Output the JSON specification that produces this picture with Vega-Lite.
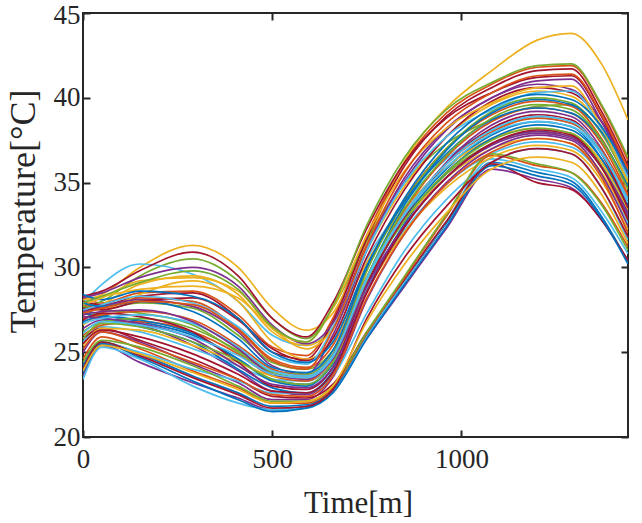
{
"$schema": "https://vega.github.io/schema/vega-lite/v6.json",
"width": 545, "height": 424,
"autosize": {"type": "none"},
"padding": {"left": 83, "top": 13, "right": 14, "bottom": 86},
"background": "white",
"config": {
 "view": {"stroke": "#262626", "strokeWidth": 2},
 "font": "Liberation Serif",
 "axis": {"grid": false, "domain": false, "tickColor": "#262626", "tickWidth": 2, "tickSize": -7, "labelColor": "#262626", "titleColor": "#262626", "labelFont": "Liberation Serif", "titleFont": "Liberation Serif", "labelFontSize": 27, "titleFontWeight": "normal", "labelFlush": false}
},
"data": {"values": [
{"s":0,"t":0,"v":27.5},{"s":0,"t":50,"v":27.2},{"s":0,"t":150,"v":26.8},{"s":0,"t":290,"v":26.0},{"s":0,"t":410,"v":24.6},{"s":0,"t":500,"v":23.4},{"s":0,"t":590,"v":23.1},{"s":0,"t":660,"v":24.3},{"s":0,"t":750,"v":29.0},{"s":0,"t":850,"v":32.9},{"s":0,"t":960,"v":35.8},{"s":0,"t":1080,"v":37.8},{"s":0,"t":1200,"v":38.6},{"s":0,"t":1290,"v":38.3},{"s":0,"t":1370,"v":36.4},{"s":0,"t":1440,"v":33.4},
{"s":1,"t":0,"v":28.2},{"s":1,"t":50,"v":27.9},{"s":1,"t":150,"v":28.5},{"s":1,"t":290,"v":28.6},{"s":1,"t":410,"v":27.2},{"s":1,"t":500,"v":25.3},{"s":1,"t":590,"v":24.8},{"s":1,"t":660,"v":27.0},{"s":1,"t":750,"v":31.9},{"s":1,"t":850,"v":36.2},{"s":1,"t":960,"v":39.1},{"s":1,"t":1080,"v":40.8},{"s":1,"t":1200,"v":41.8},{"s":1,"t":1290,"v":41.9},{"s":1,"t":1370,"v":39.5},{"s":1,"t":1440,"v":36.3},
{"s":2,"t":0,"v":28.0},{"s":2,"t":50,"v":28.4},{"s":2,"t":150,"v":30.0},{"s":2,"t":290,"v":31.3},{"s":2,"t":410,"v":30.0},{"s":2,"t":500,"v":27.6},{"s":2,"t":590,"v":26.3},{"s":2,"t":660,"v":27.3},{"s":2,"t":750,"v":31.5},{"s":2,"t":850,"v":36.3},{"s":2,"t":960,"v":39.4},{"s":2,"t":1080,"v":41.6},{"s":2,"t":1200,"v":43.4},{"s":2,"t":1290,"v":43.8},{"s":2,"t":1370,"v":42.0},{"s":2,"t":1440,"v":38.7},
{"s":3,"t":0,"v":23.6},{"s":3,"t":50,"v":25.4},{"s":3,"t":150,"v":24.4},{"s":3,"t":290,"v":23.2},{"s":3,"t":410,"v":22.3},{"s":3,"t":500,"v":21.6},{"s":3,"t":590,"v":21.8},{"s":3,"t":660,"v":22.7},{"s":3,"t":750,"v":25.8},{"s":3,"t":850,"v":28.9},{"s":3,"t":960,"v":32.3},{"s":3,"t":1080,"v":35.8},{"s":3,"t":1200,"v":35.2},{"s":3,"t":1290,"v":34.7},{"s":3,"t":1370,"v":32.8},{"s":3,"t":1440,"v":30.4},
{"s":4,"t":0,"v":27.6},{"s":4,"t":50,"v":28.0},{"s":4,"t":150,"v":29.5},{"s":4,"t":290,"v":30.5},{"s":4,"t":410,"v":29.2},{"s":4,"t":500,"v":27.0},{"s":4,"t":590,"v":25.8},{"s":4,"t":660,"v":27.6},{"s":4,"t":750,"v":31.6},{"s":4,"t":850,"v":35.0},{"s":4,"t":960,"v":37.3},{"s":4,"t":1080,"v":38.7},{"s":4,"t":1200,"v":39.5},{"s":4,"t":1290,"v":39.6},{"s":4,"t":1370,"v":37.5},{"s":4,"t":1440,"v":34.8},
{"s":5,"t":0,"v":27.9},{"s":5,"t":50,"v":29.0},{"s":5,"t":150,"v":30.2},{"s":5,"t":290,"v":29.6},{"s":5,"t":410,"v":28.0},{"s":5,"t":500,"v":26.0},{"s":5,"t":590,"v":25.4},{"s":5,"t":660,"v":26.5},{"s":5,"t":750,"v":30.5},{"s":5,"t":850,"v":33.8},{"s":5,"t":960,"v":36.4},{"s":5,"t":1080,"v":38.1},{"s":5,"t":1200,"v":38.8},{"s":5,"t":1290,"v":38.5},{"s":5,"t":1370,"v":36.7},{"s":5,"t":1440,"v":33.8},
{"s":6,"t":0,"v":28.3},{"s":6,"t":50,"v":28.6},{"s":6,"t":150,"v":29.8},{"s":6,"t":290,"v":30.9},{"s":6,"t":410,"v":29.5},{"s":6,"t":500,"v":27.0},{"s":6,"t":590,"v":25.9},{"s":6,"t":660,"v":27.9},{"s":6,"t":750,"v":32.3},{"s":6,"t":850,"v":36.2},{"s":6,"t":960,"v":38.8},{"s":6,"t":1080,"v":40.3},{"s":6,"t":1200,"v":41.2},{"s":6,"t":1290,"v":41.3},{"s":6,"t":1370,"v":38.9},{"s":6,"t":1440,"v":35.6},
{"s":7,"t":0,"v":24.2},{"s":7,"t":50,"v":25.6},{"s":7,"t":150,"v":24.9},{"s":7,"t":290,"v":23.6},{"s":7,"t":410,"v":22.6},{"s":7,"t":500,"v":21.8},{"s":7,"t":590,"v":21.9},{"s":7,"t":660,"v":22.8},{"s":7,"t":750,"v":26.0},{"s":7,"t":850,"v":29.2},{"s":7,"t":960,"v":32.6},{"s":7,"t":1080,"v":36.2},{"s":7,"t":1200,"v":35.6},{"s":7,"t":1290,"v":35.1},{"s":7,"t":1370,"v":33.0},{"s":7,"t":1440,"v":30.3},
{"s":8,"t":0,"v":27.8},{"s":8,"t":50,"v":27.6},{"s":8,"t":150,"v":28.2},{"s":8,"t":290,"v":28.0},{"s":8,"t":410,"v":26.4},{"s":8,"t":500,"v":24.6},{"s":8,"t":590,"v":24.1},{"s":8,"t":660,"v":25.4},{"s":8,"t":750,"v":30.1},{"s":8,"t":850,"v":34.0},{"s":8,"t":960,"v":37.0},{"s":8,"t":1080,"v":39.0},{"s":8,"t":1200,"v":39.8},{"s":8,"t":1290,"v":39.5},{"s":8,"t":1370,"v":37.6},{"s":8,"t":1440,"v":34.6},
{"s":9,"t":0,"v":27.2},{"s":9,"t":50,"v":27.8},{"s":9,"t":150,"v":29.0},{"s":9,"t":290,"v":29.5},{"s":9,"t":410,"v":28.4},{"s":9,"t":500,"v":26.2},{"s":9,"t":590,"v":25.4},{"s":9,"t":660,"v":26.4},{"s":9,"t":750,"v":30.3},{"s":9,"t":850,"v":33.5},{"s":9,"t":960,"v":35.9},{"s":9,"t":1080,"v":37.6},{"s":9,"t":1200,"v":38.2},{"s":9,"t":1290,"v":37.9},{"s":9,"t":1370,"v":36.2},{"s":9,"t":1440,"v":33.4},
{"s":10,"t":0,"v":26.4},{"s":10,"t":50,"v":26.9},{"s":10,"t":150,"v":26.6},{"s":10,"t":290,"v":25.4},{"s":10,"t":410,"v":23.9},{"s":10,"t":500,"v":22.7},{"s":10,"t":590,"v":22.5},{"s":10,"t":660,"v":23.8},{"s":10,"t":750,"v":28.9},{"s":10,"t":850,"v":33.0},{"s":10,"t":960,"v":36.2},{"s":10,"t":1080,"v":38.4},{"s":10,"t":1200,"v":39.2},{"s":10,"t":1290,"v":38.9},{"s":10,"t":1370,"v":37.0},{"s":10,"t":1440,"v":34.0},
{"s":11,"t":0,"v":27.0},{"s":11,"t":50,"v":27.4},{"s":11,"t":150,"v":27.9},{"s":11,"t":290,"v":27.6},{"s":11,"t":410,"v":26.0},{"s":11,"t":500,"v":24.4},{"s":11,"t":590,"v":24.0},{"s":11,"t":660,"v":25.1},{"s":11,"t":750,"v":29.3},{"s":11,"t":850,"v":32.8},{"s":11,"t":960,"v":35.5},{"s":11,"t":1080,"v":37.3},{"s":11,"t":1200,"v":38.0},{"s":11,"t":1290,"v":37.7},{"s":11,"t":1370,"v":36.0},{"s":11,"t":1440,"v":33.2},
{"s":12,"t":0,"v":25.6},{"s":12,"t":50,"v":26.5},{"s":12,"t":150,"v":26.2},{"s":12,"t":290,"v":25.2},{"s":12,"t":410,"v":24.2},{"s":12,"t":500,"v":23.4},{"s":12,"t":590,"v":23.3},{"s":12,"t":660,"v":24.4},{"s":12,"t":750,"v":28.7},{"s":12,"t":850,"v":32.2},{"s":12,"t":960,"v":34.9},{"s":12,"t":1080,"v":36.7},{"s":12,"t":1200,"v":37.4},{"s":12,"t":1290,"v":37.1},{"s":12,"t":1370,"v":35.4},{"s":12,"t":1440,"v":32.6},
{"s":13,"t":0,"v":28.0},{"s":13,"t":50,"v":27.8},{"s":13,"t":150,"v":28.3},{"s":13,"t":290,"v":28.5},{"s":13,"t":410,"v":27.0},{"s":13,"t":500,"v":25.0},{"s":13,"t":590,"v":24.6},{"s":13,"t":660,"v":26.8},{"s":13,"t":750,"v":31.7},{"s":13,"t":850,"v":36.0},{"s":13,"t":960,"v":38.9},{"s":13,"t":1080,"v":40.6},{"s":13,"t":1200,"v":41.6},{"s":13,"t":1290,"v":41.7},{"s":13,"t":1370,"v":39.2},{"s":13,"t":1440,"v":36.0},
{"s":14,"t":0,"v":27.3},{"s":14,"t":50,"v":27.0},{"s":14,"t":150,"v":26.5},{"s":14,"t":290,"v":25.6},{"s":14,"t":410,"v":24.0},{"s":14,"t":500,"v":22.9},{"s":14,"t":590,"v":22.6},{"s":14,"t":660,"v":23.9},{"s":14,"t":750,"v":28.6},{"s":14,"t":850,"v":32.6},{"s":14,"t":960,"v":35.6},{"s":14,"t":1080,"v":37.6},{"s":14,"t":1200,"v":38.4},{"s":14,"t":1290,"v":38.1},{"s":14,"t":1370,"v":36.4},{"s":14,"t":1440,"v":33.6},
{"s":15,"t":0,"v":26.0},{"s":15,"t":50,"v":26.6},{"s":15,"t":150,"v":26.8},{"s":15,"t":290,"v":26.2},{"s":15,"t":410,"v":24.9},{"s":15,"t":500,"v":23.6},{"s":15,"t":590,"v":23.3},{"s":15,"t":660,"v":24.6},{"s":15,"t":750,"v":29.4},{"s":15,"t":850,"v":33.4},{"s":15,"t":960,"v":36.5},{"s":15,"t":1080,"v":38.6},{"s":15,"t":1200,"v":39.4},{"s":15,"t":1290,"v":39.1},{"s":15,"t":1370,"v":37.3},{"s":15,"t":1440,"v":34.3},
{"s":16,"t":0,"v":26.6},{"s":16,"t":50,"v":27.3},{"s":16,"t":150,"v":28.4},{"s":16,"t":290,"v":29.2},{"s":16,"t":410,"v":28.0},{"s":16,"t":500,"v":25.6},{"s":16,"t":590,"v":24.6},{"s":16,"t":660,"v":25.6},{"s":16,"t":750,"v":29.5},{"s":16,"t":850,"v":32.8},{"s":16,"t":960,"v":35.3},{"s":16,"t":1080,"v":37.0},{"s":16,"t":1200,"v":37.6},{"s":16,"t":1290,"v":37.3},{"s":16,"t":1370,"v":35.6},{"s":16,"t":1440,"v":32.8},
{"s":17,"t":0,"v":25.0},{"s":17,"t":50,"v":26.2},{"s":17,"t":150,"v":25.6},{"s":17,"t":290,"v":24.3},{"s":17,"t":410,"v":23.2},{"s":17,"t":500,"v":22.2},{"s":17,"t":590,"v":22.2},{"s":17,"t":660,"v":23.5},{"s":17,"t":750,"v":28.1},{"s":17,"t":850,"v":32.0},{"s":17,"t":960,"v":35.0},{"s":17,"t":1080,"v":37.0},{"s":17,"t":1200,"v":37.8},{"s":17,"t":1290,"v":37.5},{"s":17,"t":1370,"v":35.5},{"s":17,"t":1440,"v":32.4},
{"s":18,"t":0,"v":27.7},{"s":18,"t":50,"v":27.5},{"s":18,"t":150,"v":27.3},{"s":18,"t":290,"v":26.6},{"s":18,"t":410,"v":25.0},{"s":18,"t":500,"v":23.8},{"s":18,"t":590,"v":23.5},{"s":18,"t":660,"v":24.8},{"s":18,"t":750,"v":29.8},{"s":18,"t":850,"v":33.9},{"s":18,"t":960,"v":37.0},{"s":18,"t":1080,"v":39.2},{"s":18,"t":1200,"v":40.0},{"s":18,"t":1290,"v":39.7},{"s":18,"t":1370,"v":37.9},{"s":18,"t":1440,"v":35.0},
{"s":19,"t":0,"v":23.4},{"s":19,"t":50,"v":25.3},{"s":19,"t":150,"v":24.6},{"s":19,"t":290,"v":23.0},{"s":19,"t":410,"v":22.0},{"s":19,"t":500,"v":21.6},{"s":19,"t":590,"v":21.7},{"s":19,"t":660,"v":22.6},{"s":19,"t":750,"v":25.9},{"s":19,"t":850,"v":29.2},{"s":19,"t":960,"v":32.7},{"s":19,"t":1080,"v":36.4},{"s":19,"t":1200,"v":35.8},{"s":19,"t":1290,"v":35.3},{"s":19,"t":1370,"v":33.3},{"s":19,"t":1440,"v":30.8},
{"s":20,"t":0,"v":25.8},{"s":20,"t":50,"v":26.4},{"s":20,"t":150,"v":25.7},{"s":20,"t":290,"v":24.6},{"s":20,"t":410,"v":23.4},{"s":20,"t":500,"v":22.4},{"s":20,"t":590,"v":22.3},{"s":20,"t":660,"v":23.1},{"s":20,"t":750,"v":26.2},{"s":20,"t":850,"v":29.3},{"s":20,"t":960,"v":32.7},{"s":20,"t":1080,"v":36.1},{"s":20,"t":1200,"v":35.0},{"s":20,"t":1290,"v":34.6},{"s":20,"t":1370,"v":32.8},{"s":20,"t":1440,"v":30.4},
{"s":21,"t":0,"v":26.8},{"s":21,"t":50,"v":27.1},{"s":21,"t":150,"v":26.9},{"s":21,"t":290,"v":26.1},{"s":21,"t":410,"v":24.6},{"s":21,"t":500,"v":23.3},{"s":21,"t":590,"v":23.0},{"s":21,"t":660,"v":24.4},{"s":21,"t":750,"v":29.4},{"s":21,"t":850,"v":33.7},{"s":21,"t":960,"v":36.9},{"s":21,"t":1080,"v":39.1},{"s":21,"t":1200,"v":39.9},{"s":21,"t":1290,"v":39.6},{"s":21,"t":1370,"v":38.0},{"s":21,"t":1440,"v":35.4},
{"s":22,"t":0,"v":24.6},{"s":22,"t":50,"v":25.9},{"s":22,"t":150,"v":25.2},{"s":22,"t":290,"v":23.9},{"s":22,"t":410,"v":22.9},{"s":22,"t":500,"v":22.0},{"s":22,"t":590,"v":22.0},{"s":22,"t":660,"v":22.9},{"s":22,"t":750,"v":26.1},{"s":22,"t":850,"v":29.4},{"s":22,"t":960,"v":33.0},{"s":22,"t":1080,"v":36.6},{"s":22,"t":1200,"v":36.0},{"s":22,"t":1290,"v":35.6},{"s":22,"t":1370,"v":33.8},{"s":22,"t":1440,"v":31.2},
{"s":23,"t":0,"v":28.1},{"s":23,"t":50,"v":28.3},{"s":23,"t":150,"v":28.7},{"s":23,"t":290,"v":28.9},{"s":23,"t":410,"v":28.2},{"s":23,"t":500,"v":26.4},{"s":23,"t":590,"v":25.2},{"s":23,"t":660,"v":26.4},{"s":23,"t":750,"v":31.0},{"s":23,"t":850,"v":34.8},{"s":23,"t":960,"v":37.7},{"s":23,"t":1080,"v":39.6},{"s":23,"t":1200,"v":40.4},{"s":23,"t":1290,"v":40.1},{"s":23,"t":1370,"v":38.2},{"s":23,"t":1440,"v":35.2},
{"s":24,"t":0,"v":27.4},{"s":24,"t":50,"v":27.7},{"s":24,"t":150,"v":28.1},{"s":24,"t":290,"v":27.7},{"s":24,"t":410,"v":26.2},{"s":24,"t":500,"v":24.2},{"s":24,"t":590,"v":23.7},{"s":24,"t":660,"v":26.0},{"s":24,"t":750,"v":31.0},{"s":24,"t":850,"v":35.3},{"s":24,"t":960,"v":38.2},{"s":24,"t":1080,"v":40.0},{"s":24,"t":1200,"v":41.0},{"s":24,"t":1290,"v":41.1},{"s":24,"t":1370,"v":38.6},{"s":24,"t":1440,"v":35.4},
{"s":25,"t":0,"v":26.2},{"s":25,"t":50,"v":26.8},{"s":25,"t":150,"v":27.0},{"s":25,"t":290,"v":26.4},{"s":25,"t":410,"v":25.1},{"s":25,"t":500,"v":23.9},{"s":25,"t":590,"v":23.7},{"s":25,"t":660,"v":24.9},{"s":25,"t":750,"v":29.2},{"s":25,"t":850,"v":32.8},{"s":25,"t":960,"v":35.6},{"s":25,"t":1080,"v":37.5},{"s":25,"t":1200,"v":38.2},{"s":25,"t":1290,"v":37.9},{"s":25,"t":1370,"v":36.0},{"s":25,"t":1440,"v":33.0},
{"s":26,"t":0,"v":24.0},{"s":26,"t":50,"v":25.5},{"s":26,"t":150,"v":25.0},{"s":26,"t":290,"v":24.0},{"s":26,"t":410,"v":23.3},{"s":26,"t":500,"v":22.6},{"s":26,"t":590,"v":22.6},{"s":26,"t":660,"v":23.6},{"s":26,"t":750,"v":27.3},{"s":26,"t":850,"v":31.0},{"s":26,"t":960,"v":34.0},{"s":26,"t":1080,"v":36.2},{"s":26,"t":1200,"v":37.0},{"s":26,"t":1290,"v":36.7},{"s":26,"t":1370,"v":34.7},{"s":26,"t":1440,"v":31.6},
{"s":27,"t":0,"v":27.6},{"s":27,"t":50,"v":27.5},{"s":27,"t":150,"v":28.0},{"s":27,"t":290,"v":28.2},{"s":27,"t":410,"v":26.9},{"s":27,"t":500,"v":25.2},{"s":27,"t":590,"v":24.5},{"s":27,"t":660,"v":25.8},{"s":27,"t":750,"v":30.6},{"s":27,"t":850,"v":34.6},{"s":27,"t":960,"v":37.7},{"s":27,"t":1080,"v":39.8},{"s":27,"t":1200,"v":40.6},{"s":27,"t":1290,"v":40.3},{"s":27,"t":1370,"v":38.6},{"s":27,"t":1440,"v":35.8},
{"s":28,"t":0,"v":23.8},{"s":28,"t":50,"v":25.5},{"s":28,"t":150,"v":24.7},{"s":28,"t":290,"v":23.3},{"s":28,"t":410,"v":22.2},{"s":28,"t":500,"v":21.5},{"s":28,"t":590,"v":21.7},{"s":28,"t":660,"v":22.6},{"s":28,"t":750,"v":25.8},{"s":28,"t":850,"v":29.0},{"s":28,"t":960,"v":32.4},{"s":28,"t":1080,"v":36.0},{"s":28,"t":1200,"v":35.4},{"s":28,"t":1290,"v":34.9},{"s":28,"t":1370,"v":32.9},{"s":28,"t":1440,"v":30.2},
{"s":29,"t":0,"v":27.0},{"s":29,"t":50,"v":27.2},{"s":29,"t":150,"v":27.4},{"s":29,"t":290,"v":26.9},{"s":29,"t":410,"v":25.4},{"s":29,"t":500,"v":24.0},{"s":29,"t":590,"v":23.6},{"s":29,"t":660,"v":24.8},{"s":29,"t":750,"v":29.4},{"s":29,"t":850,"v":33.2},{"s":29,"t":960,"v":36.1},{"s":29,"t":1080,"v":38.0},{"s":29,"t":1200,"v":38.8},{"s":29,"t":1290,"v":38.5},{"s":29,"t":1370,"v":36.9},{"s":29,"t":1440,"v":34.2},
{"s":30,"t":0,"v":25.4},{"s":30,"t":50,"v":26.4},{"s":30,"t":150,"v":26.3},{"s":30,"t":290,"v":25.4},{"s":30,"t":410,"v":24.4},{"s":30,"t":500,"v":23.6},{"s":30,"t":590,"v":23.4},{"s":30,"t":660,"v":24.5},{"s":30,"t":750,"v":28.6},{"s":30,"t":850,"v":32.1},{"s":30,"t":960,"v":34.7},{"s":30,"t":1080,"v":36.5},{"s":30,"t":1200,"v":37.2},{"s":30,"t":1290,"v":36.9},{"s":30,"t":1370,"v":35.1},{"s":30,"t":1440,"v":32.2},
{"s":31,"t":0,"v":28.2},{"s":31,"t":50,"v":28.5},{"s":31,"t":150,"v":29.4},{"s":31,"t":290,"v":30.0},{"s":31,"t":410,"v":28.9},{"s":31,"t":500,"v":26.6},{"s":31,"t":590,"v":25.5},{"s":31,"t":660,"v":26.7},{"s":31,"t":750,"v":31.3},{"s":31,"t":850,"v":35.1},{"s":31,"t":960,"v":38.1},{"s":31,"t":1080,"v":40.0},{"s":31,"t":1200,"v":40.8},{"s":31,"t":1290,"v":40.5},{"s":31,"t":1370,"v":38.6},{"s":31,"t":1440,"v":35.6},
{"s":32,"t":0,"v":24.4},{"s":32,"t":50,"v":25.7},{"s":32,"t":150,"v":25.3},{"s":32,"t":290,"v":24.2},{"s":32,"t":410,"v":23.0},{"s":32,"t":500,"v":22.1},{"s":32,"t":590,"v":22.1},{"s":32,"t":660,"v":23.0},{"s":32,"t":750,"v":26.2},{"s":32,"t":850,"v":29.5},{"s":32,"t":960,"v":33.1},{"s":32,"t":1080,"v":36.7},{"s":32,"t":1200,"v":36.1},{"s":32,"t":1290,"v":35.6},{"s":32,"t":1370,"v":33.7},{"s":32,"t":1440,"v":31.0},
{"s":33,"t":0,"v":27.5},{"s":33,"t":50,"v":27.8},{"s":33,"t":150,"v":28.3},{"s":33,"t":290,"v":27.9},{"s":33,"t":410,"v":26.5},{"s":33,"t":500,"v":24.8},{"s":33,"t":590,"v":24.3},{"s":33,"t":660,"v":26.4},{"s":33,"t":750,"v":31.0},{"s":33,"t":850,"v":35.0},{"s":33,"t":960,"v":37.7},{"s":33,"t":1080,"v":39.3},{"s":33,"t":1200,"v":40.3},{"s":33,"t":1290,"v":40.4},{"s":33,"t":1370,"v":38.2},{"s":33,"t":1440,"v":35.3},
{"s":34,"t":0,"v":26.9},{"s":34,"t":50,"v":27.3},{"s":34,"t":150,"v":27.1},{"s":34,"t":290,"v":26.2},{"s":34,"t":410,"v":24.4},{"s":34,"t":500,"v":23.0},{"s":34,"t":590,"v":22.8},{"s":34,"t":660,"v":24.1},{"s":34,"t":750,"v":29.0},{"s":34,"t":850,"v":33.0},{"s":34,"t":960,"v":36.1},{"s":34,"t":1080,"v":38.2},{"s":34,"t":1200,"v":39.0},{"s":34,"t":1290,"v":38.7},{"s":34,"t":1370,"v":36.7},{"s":34,"t":1440,"v":33.5},
{"s":35,"t":0,"v":28.4},{"s":35,"t":50,"v":28.1},{"s":35,"t":150,"v":28.6},{"s":35,"t":290,"v":28.3},{"s":35,"t":410,"v":27.0},{"s":35,"t":500,"v":25.0},{"s":35,"t":590,"v":24.4},{"s":35,"t":660,"v":25.6},{"s":35,"t":750,"v":30.1},{"s":35,"t":850,"v":33.9},{"s":35,"t":960,"v":36.7},{"s":35,"t":1080,"v":38.7},{"s":35,"t":1200,"v":39.4},{"s":35,"t":1290,"v":39.1},{"s":35,"t":1370,"v":37.5},{"s":35,"t":1440,"v":34.8},
{"s":36,"t":0,"v":25.2},{"s":36,"t":50,"v":26.2},{"s":36,"t":150,"v":25.5},{"s":36,"t":290,"v":24.4},{"s":36,"t":410,"v":23.4},{"s":36,"t":500,"v":22.5},{"s":36,"t":590,"v":22.4},{"s":36,"t":660,"v":23.6},{"s":36,"t":750,"v":28.2},{"s":36,"t":850,"v":32.0},{"s":36,"t":960,"v":34.9},{"s":36,"t":1080,"v":36.8},{"s":36,"t":1200,"v":37.6},{"s":36,"t":1290,"v":37.3},{"s":36,"t":1370,"v":35.3},{"s":36,"t":1440,"v":32.0},
{"s":37,"t":0,"v":27.8},{"s":37,"t":50,"v":28.2},{"s":37,"t":150,"v":29.2},{"s":37,"t":290,"v":29.4},{"s":37,"t":410,"v":28.6},{"s":37,"t":500,"v":26.4},{"s":37,"t":590,"v":25.6},{"s":37,"t":660,"v":27.6},{"s":37,"t":750,"v":31.9},{"s":37,"t":850,"v":35.7},{"s":37,"t":960,"v":38.2},{"s":37,"t":1080,"v":39.7},{"s":37,"t":1200,"v":40.6},{"s":37,"t":1290,"v":40.7},{"s":37,"t":1370,"v":38.3},{"s":37,"t":1440,"v":35.0},
{"s":38,"t":0,"v":27.1},{"s":38,"t":50,"v":27.0},{"s":38,"t":150,"v":26.7},{"s":38,"t":290,"v":25.8},{"s":38,"t":410,"v":24.2},{"s":38,"t":500,"v":23.1},{"s":38,"t":590,"v":22.9},{"s":38,"t":660,"v":24.1},{"s":38,"t":750,"v":28.6},{"s":38,"t":850,"v":32.4},{"s":38,"t":960,"v":35.3},{"s":38,"t":1080,"v":37.3},{"s":38,"t":1200,"v":38.0},{"s":38,"t":1290,"v":37.7},{"s":38,"t":1370,"v":35.9},{"s":38,"t":1440,"v":33.0},
{"s":39,"t":0,"v":25.8},{"s":39,"t":50,"v":26.7},{"s":39,"t":150,"v":26.5},{"s":39,"t":290,"v":25.6},{"s":39,"t":410,"v":24.5},{"s":39,"t":500,"v":23.4},{"s":39,"t":590,"v":23.1},{"s":39,"t":660,"v":24.4},{"s":39,"t":750,"v":29.4},{"s":39,"t":850,"v":33.5},{"s":39,"t":960,"v":36.6},{"s":39,"t":1080,"v":38.8},{"s":39,"t":1200,"v":39.6},{"s":39,"t":1290,"v":39.3},{"s":39,"t":1370,"v":37.5},{"s":39,"t":1440,"v":34.6},
{"s":40,"t":0,"v":26.7},{"s":40,"t":50,"v":27.0},{"s":40,"t":150,"v":27.2},{"s":40,"t":290,"v":26.7},{"s":40,"t":410,"v":25.3},{"s":40,"t":500,"v":23.9},{"s":40,"t":590,"v":23.6},{"s":40,"t":660,"v":24.8},{"s":40,"t":750,"v":29.3},{"s":40,"t":850,"v":33.1},{"s":40,"t":960,"v":35.9},{"s":40,"t":1080,"v":37.9},{"s":40,"t":1200,"v":38.6},{"s":40,"t":1290,"v":38.3},{"s":40,"t":1370,"v":36.7},{"s":40,"t":1440,"v":34.0},
{"s":41,"t":0,"v":24.0},{"s":41,"t":50,"v":25.6},{"s":41,"t":150,"v":24.8},{"s":41,"t":290,"v":23.5},{"s":41,"t":410,"v":22.5},{"s":41,"t":500,"v":21.7},{"s":41,"t":590,"v":21.8},{"s":41,"t":660,"v":22.8},{"s":41,"t":750,"v":27.0},{"s":41,"t":850,"v":30.6},{"s":41,"t":960,"v":33.6},{"s":41,"t":1080,"v":36.2},{"s":41,"t":1200,"v":37.0},{"s":41,"t":1290,"v":36.7},{"s":41,"t":1370,"v":34.7},{"s":41,"t":1440,"v":31.8},
{"s":42,"t":0,"v":27.9},{"s":42,"t":50,"v":27.7},{"s":42,"t":150,"v":28.0},{"s":42,"t":290,"v":27.4},{"s":42,"t":410,"v":25.8},{"s":42,"t":500,"v":24.1},{"s":42,"t":590,"v":23.8},{"s":42,"t":660,"v":25.1},{"s":42,"t":750,"v":30.0},{"s":42,"t":850,"v":34.1},{"s":42,"t":960,"v":37.3},{"s":42,"t":1080,"v":39.4},{"s":42,"t":1200,"v":40.2},{"s":42,"t":1290,"v":39.9},{"s":42,"t":1370,"v":38.3},{"s":42,"t":1440,"v":35.6},
{"s":43,"t":0,"v":27.3},{"s":43,"t":50,"v":27.6},{"s":43,"t":150,"v":28.0},{"s":43,"t":290,"v":27.8},{"s":43,"t":410,"v":26.3},{"s":43,"t":500,"v":24.5},{"s":43,"t":590,"v":24.0},{"s":43,"t":660,"v":26.3},{"s":43,"t":750,"v":31.3},{"s":43,"t":850,"v":35.6},{"s":43,"t":960,"v":38.5},{"s":43,"t":1080,"v":40.3},{"s":43,"t":1200,"v":41.3},{"s":43,"t":1290,"v":41.4},{"s":43,"t":1370,"v":39.0},{"s":43,"t":1440,"v":35.8},
{"s":44,"t":0,"v":23.9},{"s":44,"t":50,"v":25.4},{"s":44,"t":150,"v":24.9},{"s":44,"t":290,"v":23.8},{"s":44,"t":410,"v":22.8},{"s":44,"t":500,"v":22.0},{"s":44,"t":590,"v":22.1},{"s":44,"t":660,"v":23.0},{"s":44,"t":750,"v":26.8},{"s":44,"t":850,"v":30.2},{"s":44,"t":960,"v":33.2},{"s":44,"t":1080,"v":35.8},{"s":44,"t":1200,"v":36.5},{"s":44,"t":1290,"v":36.2},{"s":44,"t":1370,"v":34.3},{"s":44,"t":1440,"v":31.4},
{"s":45,"t":0,"v":27.2},{"s":45,"t":50,"v":27.4},{"s":45,"t":150,"v":27.5},{"s":45,"t":290,"v":26.8},{"s":45,"t":410,"v":25.2},{"s":45,"t":500,"v":23.7},{"s":45,"t":590,"v":23.4},{"s":45,"t":660,"v":24.6},{"s":45,"t":750,"v":28.9},{"s":45,"t":850,"v":32.5},{"s":45,"t":960,"v":35.3},{"s":45,"t":1080,"v":37.2},{"s":45,"t":1200,"v":37.9},{"s":45,"t":1290,"v":37.6},{"s":45,"t":1370,"v":35.9},{"s":45,"t":1440,"v":33.2},
{"s":46,"t":0,"v":27.9},{"s":46,"t":50,"v":28.3},{"s":46,"t":150,"v":29.1},{"s":46,"t":290,"v":29.8},{"s":46,"t":410,"v":28.7},{"s":46,"t":500,"v":26.5},{"s":46,"t":590,"v":25.6},{"s":46,"t":660,"v":27.7},{"s":46,"t":750,"v":32.5},{"s":46,"t":850,"v":36.5},{"s":46,"t":960,"v":39.3},{"s":46,"t":1080,"v":40.9},{"s":46,"t":1200,"v":41.9},{"s":46,"t":1290,"v":42.0},{"s":46,"t":1370,"v":39.6},{"s":46,"t":1440,"v":36.5},
{"s":47,"t":0,"v":26.1},{"s":47,"t":50,"v":26.8},{"s":47,"t":150,"v":26.6},{"s":47,"t":290,"v":25.9},{"s":47,"t":410,"v":24.8},{"s":47,"t":500,"v":23.7},{"s":47,"t":590,"v":23.5},{"s":47,"t":660,"v":24.7},{"s":47,"t":750,"v":29.4},{"s":47,"t":850,"v":33.2},{"s":47,"t":960,"v":36.1},{"s":47,"t":1080,"v":38.1},{"s":47,"t":1200,"v":38.9},{"s":47,"t":1290,"v":38.6},{"s":47,"t":1370,"v":36.8},{"s":47,"t":1440,"v":34.0},
{"s":48,"t":0,"v":25.5},{"s":48,"t":50,"v":26.3},{"s":48,"t":150,"v":25.9},{"s":48,"t":290,"v":24.9},{"s":48,"t":410,"v":23.7},{"s":48,"t":500,"v":22.7},{"s":48,"t":590,"v":22.6},{"s":48,"t":660,"v":23.8},{"s":48,"t":750,"v":28.5},{"s":48,"t":850,"v":32.4},{"s":48,"t":960,"v":35.3},{"s":48,"t":1080,"v":37.3},{"s":48,"t":1200,"v":38.1},{"s":48,"t":1290,"v":37.8},{"s":48,"t":1370,"v":35.9},{"s":48,"t":1440,"v":32.8}
]},
"layer": [
 {
  "mark": {"type": "line", "interpolate": "monotone", "strokeWidth": 1.7, "clip": true},
  "encoding": {
   "x": {"field": "t", "type": "quantitative", "scale": {"domain": [0, 1440], "nice": false, "zero": false},
         "axis": {"orient": "bottom", "values": [0, 500, 1000], "format": "d", "labelFont": "Liberation Serif", "labelFontSize": 27, "labelFlush": false, "title": "Time[m]", "titleFont": "Liberation Serif", "titleFontSize": 31, "labelPadding": 16, "titleX": 275, "titleY": 75, "titleBaseline": "alphabetic"}},
   "y": {"field": "v", "type": "quantitative", "scale": {"domain": [20, 45], "nice": false, "zero": false},
         "axis": {"orient": "left", "values": [20, 25, 30, 35, 40, 45], "format": "d", "labelFont": "Liberation Serif", "labelFontSize": 27, "labelFlush": false, "labelPadding": 10, "labelOffset": {"condition": {"test": "datum.value == 45", "value": 2}, "value": 0}, "title": "Temperature[°C]", "titleFont": "Liberation Serif", "titleFontSize": 36, "titleX": -49, "titleY": 198, "titleBaseline": "alphabetic", "titleAngle": -90, "titleAlign": "center"}},
   "color": {"field": "s", "type": "nominal", "legend": null,
             "scale": {"range": ["#0072BD", "#D95319", "#EDB120", "#7E2F8E", "#77AC30", "#4DBEEE", "#A2142F"]}}
  }
 },
 {
  "mark": {"type": "point", "opacity": 0},
  "encoding": {
   "x": {"field": "t", "type": "quantitative", "axis": {"orient": "top", "values": [0, 500, 1000], "labels": false, "title": null}},
   "y": {"field": "v", "type": "quantitative", "axis": {"orient": "right", "values": [20, 25, 30, 35, 40, 45], "labels": false, "title": null}}
  }
 }
],
"resolve": {"axis": {"x": "independent", "y": "independent"}}
}
